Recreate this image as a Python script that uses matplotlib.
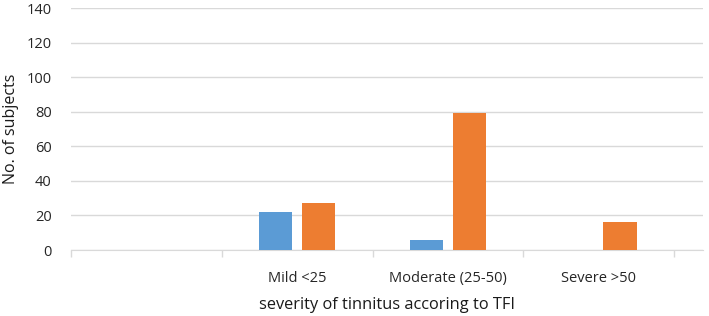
import matplotlib
matplotlib.use("Agg")
import matplotlib.pyplot as plt
import numpy as np

plt.rcParams['font.family'] = ['Open Sans', 'DejaVu Sans']

categories = ['', 'Mild <25', 'Moderate (25-50)', 'Severe >50']
series_blue = [0, 22, 6, 0]
series_orange = [0, 27, 79, 16]

fig = plt.figure(figsize=(7.09, 3.16), dpi=100)
ax = fig.add_axes([71 / 709, 1 - 250 / 316, (703 - 71) / 709, 242 / 316])

x = np.arange(len(categories))
w = 0.22
off = 0.142
ax.bar(x - off, series_blue, w, color='#5B9BD5', zorder=3)
ax.bar(x + off, series_orange, w, color='#ED7D31', zorder=3)

ax.set_ylim(0, 140)
ax.set_yticks(np.arange(0, 141, 20))
ax.set_xlim(-0.5, 3.5 + 29 / 151)
ax.yaxis.grid(True, color='#D9D9D9', linewidth=1)
ax.set_axisbelow(True)

ax.set_xticks(x)
ax.set_xticklabels(categories)
ax.set_xticks(np.arange(-0.5, 4, 1), minor=True)
ax.tick_params(axis='x', which='major', length=0, pad=15, labelsize=10.5, colors='#262626')
ax.tick_params(axis='x', which='minor', length=5, color='#D9D9D9', width=1)
ax.tick_params(axis='y', length=0, pad=14, labelsize=10.5, colors='#262626')

for s in ['top', 'right', 'left']:
    ax.spines[s].set_visible(False)
ax.spines['bottom'].set_color('#D9D9D9')

ax.set_ylabel('No. of subjects', fontsize=11.5, color='#1a1a1a', labelpad=5)
ax.set_xlabel('severity of tinnitus accoring to TFI', fontsize=11.8, color='#1a1a1a', labelpad=8)

fig.savefig('out.png', dpi=100)
